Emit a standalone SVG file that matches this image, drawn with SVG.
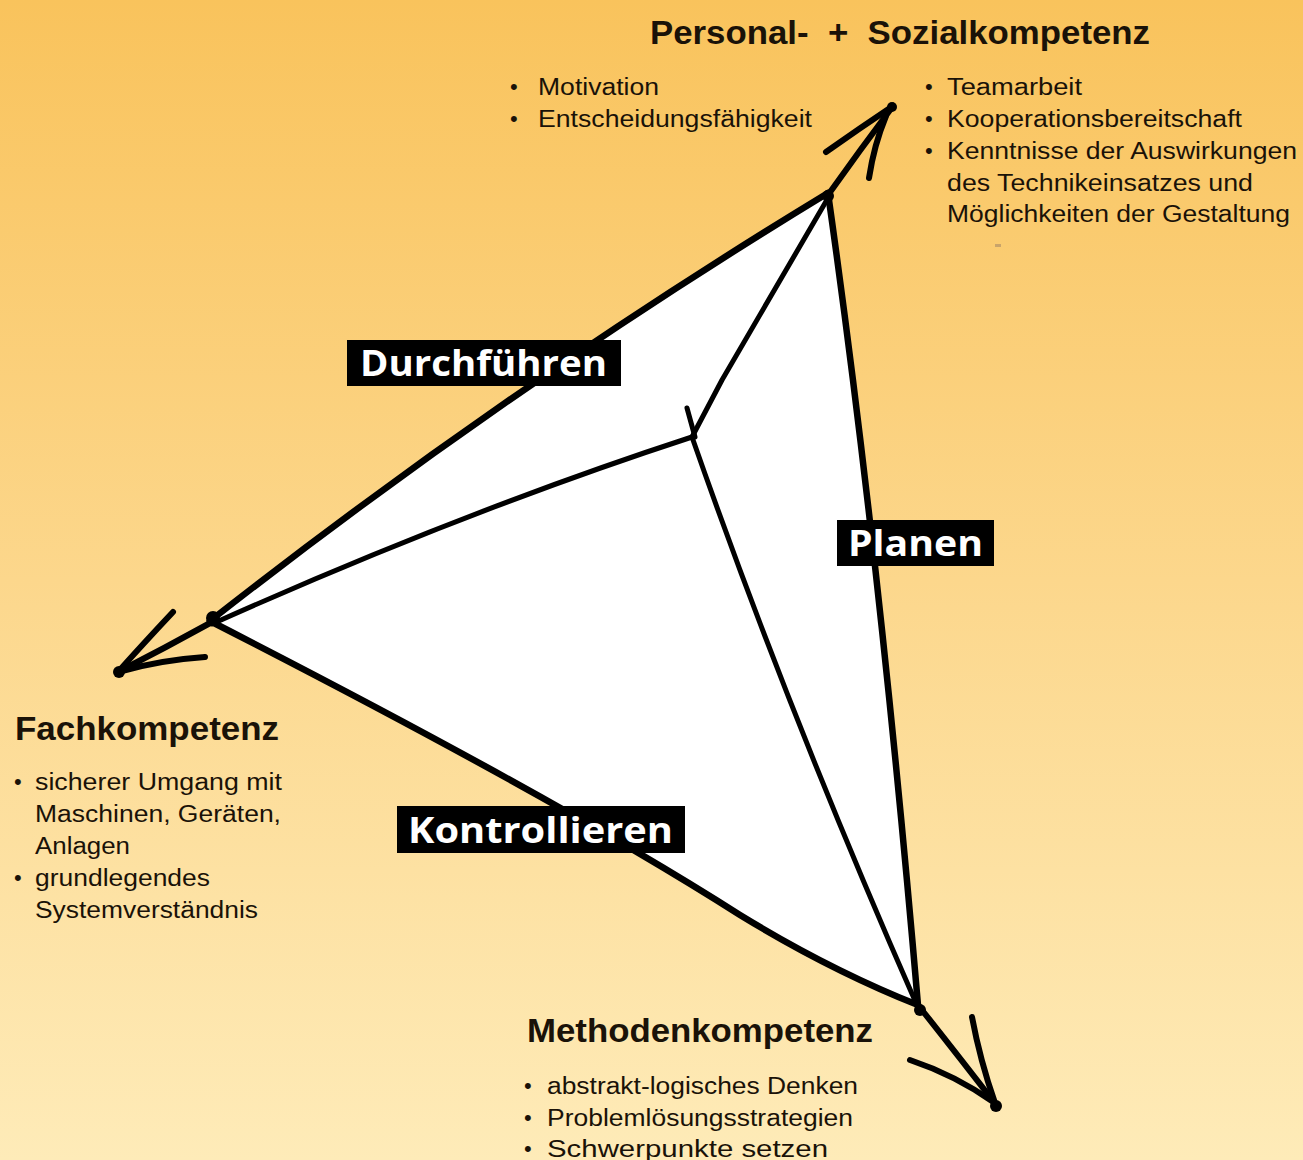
<svg xmlns="http://www.w3.org/2000/svg" width="1303" height="1160" viewBox="0 0 1303 1160">
<defs>
<linearGradient id="bg" x1="0" y1="0" x2="0" y2="1">
<stop offset="0" stop-color="#F9C35C"/>
<stop offset="0.5" stop-color="#FCD78C"/>
<stop offset="1" stop-color="#FEEBB8"/>
</linearGradient>
<style>
.head{font-family:"Liberation Sans",Arial,sans-serif;font-weight:bold;font-size:33px;fill:#1a1208}
.bul{font-family:"Liberation Sans",Arial,sans-serif;font-size:23px;fill:#1a1208}
.dot{font-family:"Liberation Sans",Arial,sans-serif;font-size:22px;fill:#1a1208}
.lab{font-family:"Open Sans","Liberation Sans",sans-serif;font-weight:bold;font-size:36px;fill:#ffffff}
.box{fill:#000000}
.outer{fill:none;stroke:#000;stroke-width:6.5;stroke-linecap:round;stroke-linejoin:round}
.inner{fill:none;stroke:#000;stroke-width:5;stroke-linecap:round;stroke-linejoin:round}
.arr{fill:none;stroke:#000;stroke-width:6;stroke-linecap:round;stroke-linejoin:round}
</style>
</defs>
<rect x="0" y="0" width="1303" height="1160" fill="url(#bg)"/>

<g id="triangle">
<path d="M828,193 Q507,388 210,621 Q560,800 740,915 Q830,970 918,1005 Q880,560 828,193 Z" fill="#ffffff" stroke="none"/>
</g>

<g id="connectors">
<path class="outer" d="M828,193 Q507,388 210,621"/>
<path class="outer" d="M210,621 Q560,800 740,915 Q830,970 918,1005"/>
<path class="outer" d="M828,193 Q880,560 918,1005"/>
<path class="inner" d="M828,198 L722,380 L692,437"/>
<path class="inner" d="M692,437 Q462,512 212,624"/>
<path class="inner" d="M692,437 Q788,712 916,1003"/>
<path class="inner" d="M687,408 L695,437" stroke-width="7"/>
<!-- top arrow -->
<path class="arr" d="M828,195 Q860,150 893,106"/>
<path class="arr" d="M893,106 Q860,128 826,152"/>
<path class="arr" d="M886,116 Q874,145 869,178"/>
<circle cx="892" cy="107" r="5"/>
<circle cx="828" cy="196" r="6"/>
<!-- left arrow -->
<path class="arr" d="M212,622 Q165,648 118,672"/>
<path class="arr" d="M173,612 Q142,645 118,672"/>
<path class="arr" d="M205,657 Q160,660 118,672"/>
<circle cx="119" cy="672" r="6"/>
<circle cx="213" cy="618" r="7"/>
<!-- bottom arrow -->
<path class="arr" d="M918,1005 Q960,1058 997,1106"/>
<path class="arr" d="M972,1017 Q980,1060 995,1103"/>
<path class="arr" d="M910,1060 Q955,1075 995,1103"/>
<circle cx="996" cy="1106" r="6"/>
<circle cx="920" cy="1010" r="6"/>
</g>

<g id="personal">
<text class="head" x="650" y="44" textLength="500" lengthAdjust="spacingAndGlyphs">Personal-&#160; +&#160; Sozialkompetenz</text>
<text class="dot" x="510" y="94">•</text>
<text class="bul" x="538" y="95" textLength="121" lengthAdjust="spacingAndGlyphs">Motivation</text>
<text class="dot" x="510" y="126">•</text>
<text class="bul" x="538" y="127" textLength="274" lengthAdjust="spacingAndGlyphs">Entscheidungsfähigkeit</text>
<text class="dot" x="925" y="94">•</text>
<text class="bul" x="947" y="95" textLength="135" lengthAdjust="spacingAndGlyphs">Teamarbeit</text>
<text class="dot" x="925" y="126">•</text>
<text class="bul" x="947" y="127" textLength="295" lengthAdjust="spacingAndGlyphs">Kooperationsbereitschaft</text>
<text class="dot" x="925" y="158">•</text>
<text class="bul" x="947" y="159" textLength="350" lengthAdjust="spacingAndGlyphs">Kenntnisse der Auswirkungen</text>
<text class="bul" x="947" y="191" textLength="306" lengthAdjust="spacingAndGlyphs">des Technikeinsatzes und</text>
<text class="bul" x="947" y="222" textLength="343" lengthAdjust="spacingAndGlyphs">Möglichkeiten der Gestaltung</text>
<rect x="995" y="244" width="6" height="3" fill="#c9a46a"/>
</g>

<g id="fach">
<text class="head" x="15" y="740" textLength="264" lengthAdjust="spacingAndGlyphs">Fachkompetenz</text>
<text class="dot" x="14" y="789">•</text>
<text class="bul" x="35" y="790" textLength="247" lengthAdjust="spacingAndGlyphs">sicherer Umgang mit</text>
<text class="bul" x="35" y="822" textLength="246" lengthAdjust="spacingAndGlyphs">Maschinen, Geräten,</text>
<text class="bul" x="35" y="854" textLength="95" lengthAdjust="spacingAndGlyphs">Anlagen</text>
<text class="dot" x="14" y="885">•</text>
<text class="bul" x="35" y="886" textLength="175" lengthAdjust="spacingAndGlyphs">grundlegendes</text>
<text class="bul" x="35" y="918" textLength="223" lengthAdjust="spacingAndGlyphs">Systemverständnis</text>
</g>

<g id="methoden">
<text class="head" x="527" y="1042" textLength="346" lengthAdjust="spacingAndGlyphs">Methodenkompetenz</text>
<text class="dot" x="524" y="1093">•</text>
<text class="bul" x="547" y="1094" textLength="311" lengthAdjust="spacingAndGlyphs">abstrakt-logisches Denken</text>
<text class="dot" x="524" y="1125">•</text>
<text class="bul" x="547" y="1126" textLength="306" lengthAdjust="spacingAndGlyphs">Problemlösungsstrategien</text>
<text class="dot" x="524" y="1156">•</text>
<text class="bul" x="547" y="1157" textLength="281" lengthAdjust="spacingAndGlyphs">Schwerpunkte setzen</text>
</g>

<g id="durchfuehren">
<rect class="box" x="347" y="340" width="274" height="46"/>
<text class="lab" x="360" y="376" textLength="247" lengthAdjust="spacingAndGlyphs">Durchführen</text>
</g>
<g id="planen">
<rect class="box" x="837" y="520" width="157" height="46"/>
<text class="lab" x="848" y="556" textLength="135" lengthAdjust="spacingAndGlyphs">Planen</text>
</g>
<g id="kontrollieren">
<rect class="box" x="397" y="806" width="288" height="47"/>
<text class="lab" x="408" y="843" textLength="265" lengthAdjust="spacingAndGlyphs">Kontrollieren</text>
</g>
</svg>
